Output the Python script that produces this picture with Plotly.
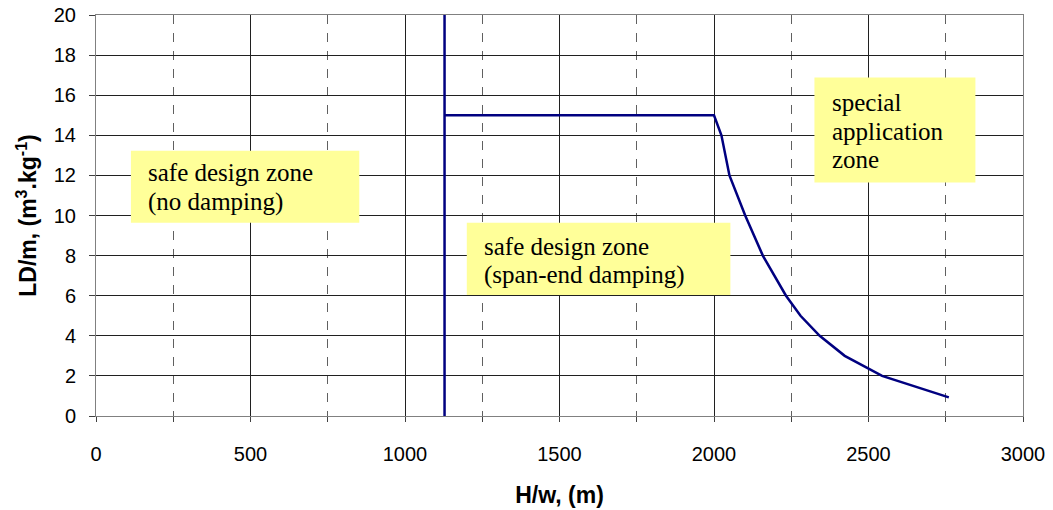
import plotly.graph_objects as go

# ---- data ----
limit_x = [1128, 1128]
limit_y = [0, 20]

curve_x = [1128, 2000, 2024, 2050, 2101, 2158, 2233, 2280, 2342, 2423, 2544, 2760]
curve_y = [15, 15, 14, 12, 10, 8, 6, 5, 4, 3, 2, 0.93]

x_ticks = [0, 500, 1000, 1500, 2000, 2500, 3000]
y_ticks = [0, 2, 4, 6, 8, 10, 12, 14, 16, 18, 20]

# zone labels: (x0, x1, y0, y1) box in data units, text x, lines with y
zones = [
    dict(box=(113, 852, 9.64, 13.23), tx=162,
         lines=["safe design zone", "(no damping)"], ly=[12.13, 10.69]),
    dict(box=(1200, 2053, 6.04, 9.64), tx=1250,
         lines=["safe design zone", "(span-end damping)"], ly=[8.46, 7.04]),
    dict(box=(2325, 2846, 11.65, 16.88), tx=2377,
         lines=["special", "application", "zone"], ly=[15.63, 14.18, 12.78]),
]

line_color = "#000080"

fig = go.Figure()
fig.add_trace(go.Scatter(x=limit_x, y=limit_y, mode="lines",
                         line=dict(color=line_color, width=2.5), showlegend=False))
fig.add_trace(go.Scatter(x=curve_x, y=curve_y, mode="lines",
                         line=dict(color=line_color, width=2.5), showlegend=False))

serif = "Liberation Serif, Times New Roman, serif"
sans = "Liberation Sans, Arial, sans-serif"

for z in zones:
    x0, x1, y0, y1 = z["box"]
    fig.add_shape(type="rect", x0=x0, x1=x1, y0=y0, y1=y1, xref="x", yref="y",
                  fillcolor="#FFFF99", line=dict(width=0), layer="between")
    for t, yy in zip(z["lines"], z["ly"]):
        fig.add_annotation(x=z["tx"], y=yy, xref="x", yref="y", text=t,
                           showarrow=False, xanchor="left", yanchor="middle",
                           font=dict(family=serif, size=25, color="black"))

fig.update_layout(
    width=1053, height=510,
    margin=dict(l=96, r=30, t=15, b=94, autoexpand=False),
    paper_bgcolor="white", plot_bgcolor="white",
    font=dict(family=sans, size=20, color="black"),
)

fig.update_xaxes(
    range=[0, 3000], tickvals=x_ticks, ticks="outside", ticklen=5,
    tickcolor="#404040", showline=True, linecolor="#808080", linewidth=1,
    mirror=True, showgrid=True, gridcolor="#202020", gridwidth=1,
    zeroline=False, automargin=False, ticklabelstandoff=15,
    ticklabeloverflow="allow",
    minor=dict(dtick=250, tick0=0, showgrid=True, gridcolor="#606060",
               griddash="dash", ticks="outside", ticklen=5, tickcolor="#404040"),
    title=dict(text="<b>H/w, (m)</b>", font=dict(size=23), standoff=22),
    tickfont=dict(size=20),
)
fig.update_yaxes(
    range=[0, 20], tickvals=y_ticks, ticks="outside", ticklen=6,
    tickcolor="#404040", showline=True, linecolor="#808080", linewidth=1,
    mirror=True, showgrid=True, gridcolor="#202020", gridwidth=1,
    zeroline=False, automargin=False, ticklabelstandoff=9,
    ticklabeloverflow="allow",
    title=dict(text="<b>LD/m, (m<sup>3</sup>.kg<sup>-1</sup>)</b>", font=dict(size=23), standoff=10),
    tickfont=dict(size=20),
)

fig.write_html("out.html",
               config={"displayModeBar": False},
               post_script="document.body.style.margin='0';")
